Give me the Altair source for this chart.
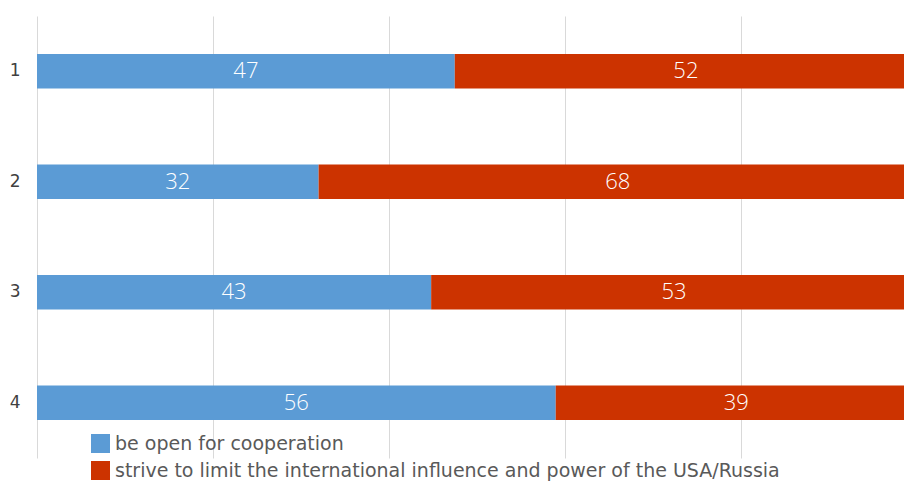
import altair as alt
import pandas as pd

questions = ["1", "2", "3", "4"]
open_vals = [47, 32, 43, 56]
limit_vals = [52, 68, 53, 39]
series_names = [
    "be open for cooperation",
    "strive to limit the international influence and power of the USA/Russia",
]
colors = ["#5B9BD5", "#CC3300"]

rows = []
for q, a, b in zip(questions, open_vals, limit_vals):
    rows.append({"q": q, "series": series_names[0], "value": a, "order": 0})
    rows.append({"q": q, "series": series_names[1], "value": b, "order": 1})
df = pd.DataFrame(rows)

xscale = alt.Scale(domain=[0, 1], nice=False, zero=True)
yscale = alt.Scale(paddingInner=0.69, paddingOuter=0.345)

yaxis = alt.Axis(
    title=None, domain=False, ticks=False, labelPadding=17,
    labelFontSize=17, labelColor="#404040", labelFont="DejaVu Sans",
)
xaxis = alt.Axis(
    title=None, values=[0, 0.2, 0.4, 0.6, 0.8], labels=False, ticks=False,
    domain=False, grid=True, gridColor="#D9D9D9", gridWidth=1,
)

base = alt.Chart(df)

bars = base.mark_bar().encode(
    x=alt.X("value:Q", stack="normalize", scale=xscale, axis=xaxis),
    y=alt.Y("q:N", scale=yscale, axis=yaxis, sort=questions),
    color=alt.Color(
        "series:N",
        scale=alt.Scale(domain=series_names, range=colors),
        legend=alt.Legend(
            title=None, orient="none", legendX=54, legendY=418,
            direction="vertical", symbolType="square", symbolSize=361,
            symbolStrokeWidth=0, labelFontSize=19, labelColor="#595959",
            labelFont="DejaVu Sans", labelLimit=1000, labelOffset=5,
            rowPadding=7, padding=0,
        ),
    ),
    order=alt.Order("order:Q"),
)

labels = base.transform_stack(
    stack="value", groupby=["q"], as_=["v0", "v1"], offset="normalize",
    sort=[alt.SortField("order", order="ascending")],
).transform_calculate(
    mid="(datum.v0 + datum.v1) / 2"
).mark_text(
    color="white", fontSize=22, font="Open Sans", fontWeight=300,
    baseline="middle", align="center"
).encode(
    x=alt.X("mid:Q", scale=xscale, axis=xaxis),
    y=alt.Y("q:N", scale=yscale, axis=yaxis, sort=questions),
    text=alt.Text("value:Q"),
)

chart = alt.layer(bars, labels).properties(
    width=880, height=442,
    autosize=alt.AutoSizeParams(type="none"),
    padding={"left": 29, "top": 8, "right": -13, "bottom": 26},
).configure_view(stroke=None)

chart.save("out.html", embed_options={"renderer": "svg", "actions": False})
